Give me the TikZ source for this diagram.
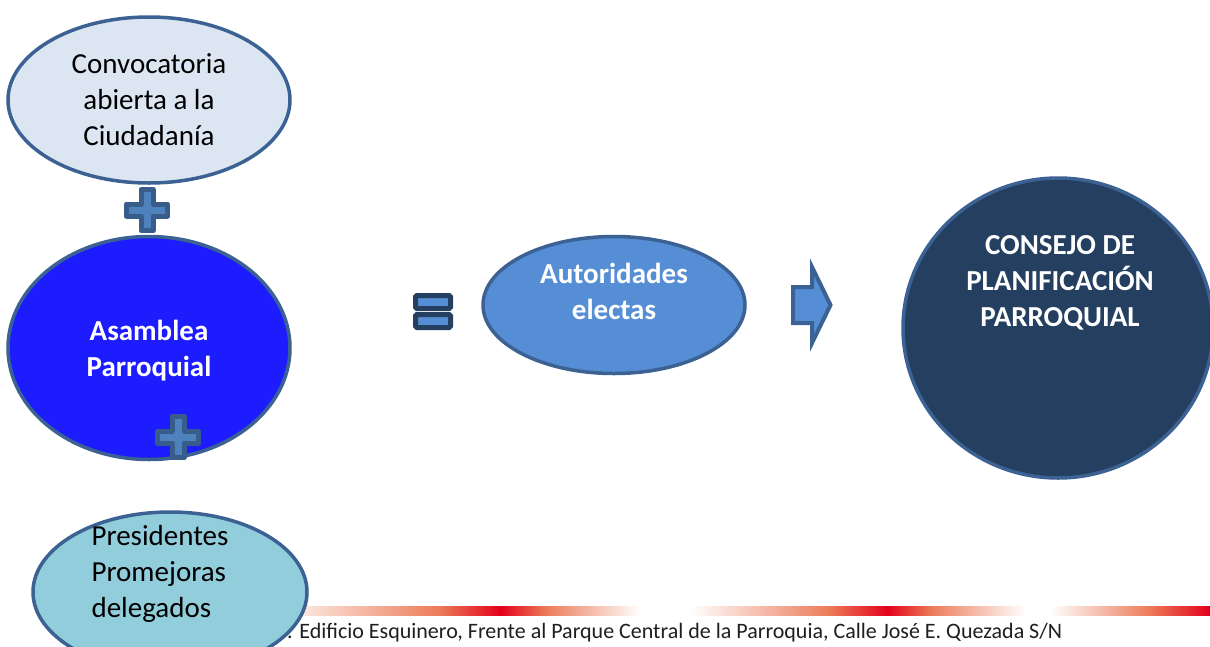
\documentclass[tikz,border=0pt]{standalone}
\usepackage{fontspec}
\setmainfont{Carlito}
\usetikzlibrary{shapes.geometric}
\definecolor{edgeblue}{HTML}{3C6193}
\definecolor{convfill}{HTML}{DCE6F2}
\definecolor{asamfill}{HTML}{1C1CFF}
\definecolor{presfill}{HTML}{92CDDC}
\definecolor{autofill}{HTML}{558ED5}
\definecolor{consfill}{HTML}{243F60}
\definecolor{plusfill}{HTML}{4F81BD}
\definecolor{plusedge}{HTML}{385D8A}
\definecolor{redline}{HTML}{E3001B}
\definecolor{orangeline}{HTML}{EC7A58}
\definecolor{paleline}{HTML}{FDF0EA}
\definecolor{foottext}{HTML}{1F1F1F}
\tikzset{
  ellbox/.style={ellipse, draw=edgeblue, line width=3.5pt, inner sep=0pt},
  bigtext/.style={font=\fontsize{29}{36}\selectfont, align=center, text=black},
  boldtext/.style={font=\fontsize{29}{36}\selectfont\bfseries, align=center, text=white},
  plusst/.style={fill=plusfill, draw=plusedge, line width=5pt, line join=round},
  eqst/.style={fill=autofill, draw=consfill, line width=5pt, rounded corners=1.5pt},
  arrowst/.style={fill=autofill, draw=edgeblue, line width=4pt, line join=miter},
  plussign/.pic={
    \path[plusst] (-6,20.5) -- (6,20.5) -- (6,6) -- (20.5,6) -- (20.5,-6) -- (6,-6)
      -- (6,-20.5) -- (-6,-20.5) -- (-6,-6) -- (-20.5,-6) -- (-20.5,6) -- (-6,6) -- cycle;
  }
}
\begin{document}
\begin{tikzpicture}[x=1pt,y=1pt]
\clip (0,0) rectangle (1210,-646);
\fill[white] (0,0) rectangle (1210,-646);

% decorative red gradient line
\shade[left color=paleline, right color=orangeline] (290,-606) rectangle (441,-615);
\shade[left color=orangeline, right color=redline] (440,-606) rectangle (501,-615);
\shade[left color=redline, right color=orangeline] (500,-606) rectangle (546,-615);
\shade[left color=orangeline, right color=white] (545,-606) rectangle (640,-615);
\shade[left color=white, right color=orangeline] (690,-606) rectangle (831,-615);
\shade[left color=orangeline, right color=redline] (830,-606) rectangle (888,-615);
\shade[left color=redline, right color=orangeline] (887,-606) rectangle (931,-615);
\shade[left color=orangeline, right color=white] (930,-606) rectangle (1025,-615);
\shade[left color=white, right color=orangeline] (1050,-606) rectangle (1151,-615);
\shade[left color=orangeline, right color=redline] (1150,-606) rectangle (1210,-615);

% footer text
\node[anchor=base west, inner sep=0pt, font=\fontsize{22}{26}\selectfont, text=foottext] (footer) at (263,-638)
  {Dir. Edificio Esquinero, Frente al Parque Central de la Parroquia, Calle José E. Quezada S/N};

% ellipses
\node[ellbox, fill=convfill, minimum width=282pt, minimum height=166pt] (conv) at (149,-100) {};
\node[bigtext] (convt) at (149,-100) {Convocatoria\\abierta a la\\Ciudadanía};

\node[ellbox, fill=asamfill, minimum width=282pt, minimum height=223pt] (asam) at (149,-348) {};
\node[boldtext] (asamt) at (149,-351) {Asamblea\\Parroquial};

\node[ellbox, fill=presfill, minimum width=274pt, minimum height=160pt] (pres) at (170,-592) {};
\node[bigtext, align=left] (prest) at (160,-574) {Presidentes\\Promejoras\\delegados};

\node[ellbox, fill=autofill, minimum width=262pt, minimum height=137pt] (auto) at (614,-305) {};
\node[boldtext] (autot) at (614,-291) {Autoridades\\electas};

\node[ellbox, fill=consfill, minimum width=310pt, minimum height=300pt] (cons) at (1058,-328) {};
\node[boldtext] (const) at (1060,-283) {CONSEJO DE\\PLANIFICACIÓN\\PARROQUIAL};

% plus signs
\pic at (147,-210) {plussign};
\pic at (178,-437) {plussign};

% equals sign
\path[eqst] (415.5,-295.5) rectangle (450.5,-308.5);
\path[eqst] (415.5,-314.5) rectangle (450.5,-327.5);

% block arrow
\path[arrowst] (793,-287) -- (812,-287) -- (812,-267) -- (830.5,-305) -- (812,-343) -- (812,-323) -- (793,-323) -- cycle;
\end{tikzpicture}
\end{document}
